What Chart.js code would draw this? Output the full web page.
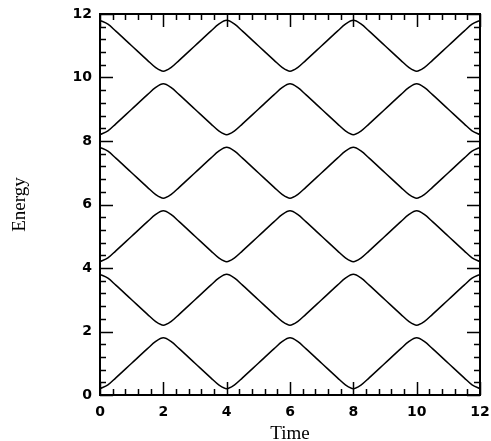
<!DOCTYPE html>
<html><head><meta charset="utf-8">
<script src="https://cdn.jsdelivr.net/npm/chart.js@4.4.1/dist/chart.umd.min.js"></script>
<style>html,body{margin:0;padding:0;background:#fff}</style>
</head><body>
<canvas id="c" width="491" height="441"></canvas>
<script>
const time = [0,0.25,0.5,1,1.5,1.75, 2,2.25,2.5,3,3.5,3.75, 4,4.25,4.5,5,5.5,5.75, 6,6.25,6.5,7,7.5,7.75, 8,8.25,8.5,9,9.5,9.75, 10,10.25,10.5,11,11.5,11.75, 12];
const level1 = [0.20,0.32,0.54,1.00,1.46,1.68, 1.80,1.68,1.46,1.00,0.54,0.32, 0.20,0.32,0.54,1.00,1.46,1.68, 1.80,1.68,1.46,1.00,0.54,0.32, 0.20,0.32,0.54,1.00,1.46,1.68, 1.80,1.68,1.46,1.00,0.54,0.32, 0.20];
const level2 = [3.80,3.68,3.46,3.00,2.54,2.32, 2.20,2.32,2.54,3.00,3.46,3.68, 3.80,3.68,3.46,3.00,2.54,2.32, 2.20,2.32,2.54,3.00,3.46,3.68, 3.80,3.68,3.46,3.00,2.54,2.32, 2.20,2.32,2.54,3.00,3.46,3.68, 3.80];
const level3 = [4.20,4.32,4.54,5.00,5.46,5.68, 5.80,5.68,5.46,5.00,4.54,4.32, 4.20,4.32,4.54,5.00,5.46,5.68, 5.80,5.68,5.46,5.00,4.54,4.32, 4.20,4.32,4.54,5.00,5.46,5.68, 5.80,5.68,5.46,5.00,4.54,4.32, 4.20];
const level4 = [7.80,7.68,7.46,7.00,6.54,6.32, 6.20,6.32,6.54,7.00,7.46,7.68, 7.80,7.68,7.46,7.00,6.54,6.32, 6.20,6.32,6.54,7.00,7.46,7.68, 7.80,7.68,7.46,7.00,6.54,6.32, 6.20,6.32,6.54,7.00,7.46,7.68, 7.80];
const level5 = [8.20,8.32,8.54,9.00,9.46,9.68, 9.80,9.68,9.46,9.00,8.54,8.32, 8.20,8.32,8.54,9.00,9.46,9.68, 9.80,9.68,9.46,9.00,8.54,8.32, 8.20,8.32,8.54,9.00,9.46,9.68, 9.80,9.68,9.46,9.00,8.54,8.32, 8.20];
const level6 = [11.80,11.68,11.46,11.00,10.54,10.32, 10.20,10.32,10.54,11.00,11.46,11.68, 11.80,11.68,11.46,11.00,10.54,10.32, 10.20,10.32,10.54,11.00,11.46,11.68, 11.80,11.68,11.46,11.00,10.54,10.32, 10.20,10.32,10.54,11.00,11.46,11.68, 11.80];
const levels = [level1, level2, level3, level4, level5, level6];
const axisMin = 0, axisMax = 12, majorStep = 2, minorStep = 0.4;

const frame = {
  id: 'frame',
  afterDatasetsDraw(chart) {
    const {ctx, chartArea: a, scales: {x, y}} = chart;
    ctx.save();
    ctx.strokeStyle = '#000';
    ctx.lineWidth = 2;
    ctx.strokeRect(a.left, a.top, a.right - a.left, a.bottom - a.top);
    ctx.lineWidth = 1.5;
    const n = Math.round((axisMax - axisMin) / minorStep);
    const per = Math.round(majorStep / minorStep);
    ctx.beginPath();
    for (let i = 0; i <= n; i++) {
      const v = axisMin + i * minorStep;
      const L = (i % per === 0) ? 13 : 6;
      const px = Math.round(x.getPixelForValue(v)) + 0.5;
      ctx.moveTo(px, a.bottom); ctx.lineTo(px, a.bottom - L);
      ctx.moveTo(px, a.top); ctx.lineTo(px, a.top + L);
      const py = Math.round(y.getPixelForValue(v)) + 0.5;
      ctx.moveTo(a.left, py); ctx.lineTo(a.left + L, py);
      ctx.moveTo(a.right, py); ctx.lineTo(a.right - L, py);
    }
    ctx.stroke();
    ctx.restore();
  }
};

new Chart(document.getElementById('c'), {
  type: 'line',
  data: {
    datasets: levels.map(lv => ({
      data: time.map((t, i) => ({x: t, y: lv[i]})),
      borderColor: '#000',
      borderWidth: 1.5,
      pointRadius: 0,
      cubicInterpolationMode: 'monotone',
      fill: false
    }))
  },
  options: {
    responsive: false,
    animation: false,
    devicePixelRatio: 1,
    layout: {padding: {left: 0, right: 11, top: 14, bottom: 0}},
    plugins: {legend: {display: false}, tooltip: {enabled: false}},
    scales: {
      x: {
        type: 'linear', min: axisMin, max: axisMax,
        grid: {display: false, drawTicks: false},
        border: {display: false},
        ticks: {stepSize: majorStep, color: '#000', padding: 9,
                font: {family: 'DejaVu Sans', weight: 'bold', size: 14}},
        title: {display: true, text: 'Time', color: '#000',
                font: {family: 'Liberation Serif', size: 19},
                padding: {top: 0, bottom: -4}},
        afterFit(s) { s.height = 46; s.paddingLeft = 0; s.paddingRight = 0; }
      },
      y: {
        type: 'linear', min: axisMin, max: axisMax,
        grid: {display: false, drawTicks: false},
        border: {display: false},
        ticks: {stepSize: majorStep, color: '#000', padding: 8,
                font: {family: 'DejaVu Sans', weight: 'bold', size: 14}},
        title: {display: true, text: 'Energy', color: '#000',
                font: {family: 'Liberation Serif', size: 19},
                padding: {top: 9, bottom: 0}},
        afterFit(s) { s.width = 100; s.paddingTop = 0; s.paddingBottom = 0; }
      }
    }
  },
  plugins: [frame]
});
</script>
</body></html>
